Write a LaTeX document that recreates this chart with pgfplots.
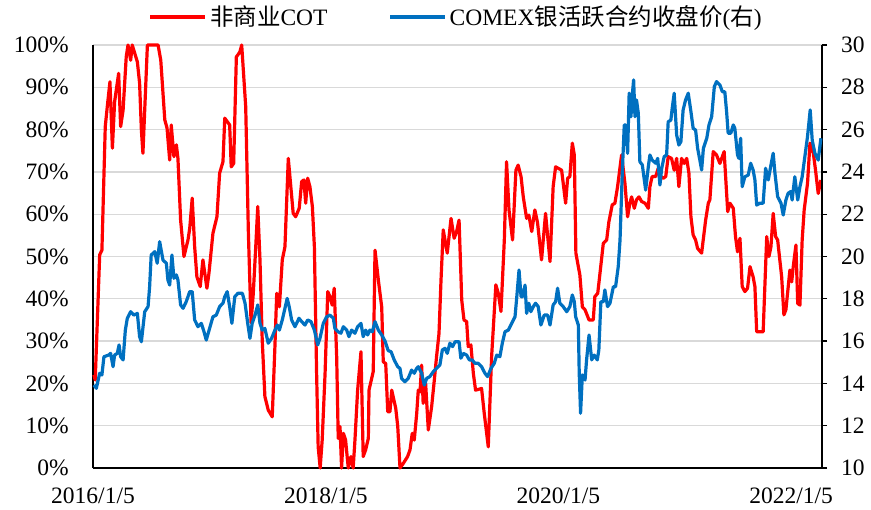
\documentclass[border=0pt]{standalone}
\usepackage{pgfplots}
\pgfplotsset{compat=1.18}
\usepackage{fontspec}
\setmainfont{Liberation Serif}
\newfontfamily\cjk{Noto Sans CJK SC}
\definecolor{cred}{RGB}{255,0,0}
\definecolor{cblue}{RGB}{0,112,192}
\definecolor{cgrid}{RGB}{217,217,217}
\begin{document}
\fontsize{23.5bp}{28bp}\selectfont
\begin{tikzpicture}
\begin{axis}[
  scale only axis, width=729bp, height=423bp,
  at={(0,0)}, anchor=south west,
  xmin=0, xmax=327, ymin=0, ymax=100,
  clip=false,
  axis x line*=bottom, axis y line*=left,
  axis line style={-, black, line width=1.3bp},
  xtick={0,104.43,208.71,313.14},
  xticklabels={2016/1/5,2018/1/5,2020/1/5,2022/1/5},
  ytick={0,10,...,100},
  yticklabel={\pgfmathprintnumber{\tick}\%},
  /pgf/number format/assume math mode=true,
  ymajorgrids, major grid style={cgrid, line width=1.3bp},
  major tick length=0pt,
  tick style={draw=none},
  ticklabel style={font=\fontsize{23.5bp}{28bp}\selectfont},
  yticklabel style={inner sep=0pt, xshift=-24bp},
  xticklabel style={inner sep=0pt, yshift=-20bp},
  legend columns=2,
  legend style={at={(0.499,1)}, anchor=center, yshift=28bp, draw=none, fill=none,
    font=\fontsize{23.5bp}{28bp}\selectfont, inner sep=0pt,
    nodes={inner sep=3bp},
    /tikz/every even column/.append style={column sep=58bp}},
  legend image code/.code={\draw[#1, line width=3.2bp] (0bp,0bp) -- (55bp,0bp);},
]
\addplot[cred, line width=3.2bp, line join=round] coordinates {
(0.4,22) (1.0,20.8) (3.0,50.4) (4.0,51.5) (5.5,80.7) (6.4,85.4) (7.6,91.3) (8.7,75.6) (9.7,86.6) (11.5,93.3) (12.4,80.7) (13.5,84.6) (14.9,97.2) (15.7,100) (16.9,96.4) (17.6,100) (19.9,96) (20.9,91) (21.7,79.9) (22.4,74.4) (24.4,100) (29.2,100) (30.4,96.4) (32.2,82.3) (33.2,80.4) (34.4,72.8) (35.1,81.1) (36.3,73.6) (37.4,76.4) (38.1,73.2) (39.3,58.6) (40.8,50) (42.6,53.9) (43.4,56.7) (44.5,63.8) (45.6,52.3) (46.6,45.2) (48.1,42.9) (49.3,49.2) (51.1,42.5) (52.0,46) (53.8,55.5) (55.6,59.4) (56.8,69.7) (58.3,72.4) (59.1,82.7) (61.3,81.1) (62.0,71.2) (63.1,72) (64.3,97.2) (64.9,97.6) (65.9,98.4) (66.7,100) (68.5,85.4) (69.7,55.5) (70.9,34.3) (71.9,41.3) (73.0,52.3) (73.9,61.8) (74.9,49.2) (75.9,30.3) (77.1,16.9) (78.6,13.7) (80.4,12.1) (81.6,28.7) (82.4,41.3) (83.6,38.1) (84.9,49.2) (86.1,52.3) (87.6,73.2) (89.8,60.2) (90.9,59.4) (92.5,61.4) (93.6,67.7) (94.6,68.1) (95.4,62.6) (96.3,68.5) (97.3,66.5) (98.4,61.8) (99.3,52.3) (100.3,22.4) (101.0,5) (101.9,0) (102.8,6.6) (104.1,22.4) (105.3,41.7) (106.3,40.5) (107.3,38.5) (108.2,42.5) (109.3,26.3) (110.0,7) (110.8,9.8) (111.5,0) (112.3,8.2) (113.3,6.6) (114.5,0) (115.7,2.7) (116.7,0) (117.5,6.6) (118.7,18.4) (120.2,27.5) (121.2,2.7) (122.3,4.3) (123.5,7) (123.8,18.4) (125.7,22.8) (126.5,51.5) (128.0,44.4) (129.5,38.1) (130.2,25.1) (131.3,24.7) (132.2,13.3) (133.2,13.3) (134.0,18.4) (135.8,14.1) (136.7,9.8) (137.7,0) (139.2,1.1) (141.1,2.7) (142.2,4.3) (143.2,8.2) (144.1,6.6) (145.2,12.9) (145.9,18.4) (146.7,18) (147.4,24.3) (148.1,15.3) (149.2,20) (150.4,9) (151.9,14.5) (153.1,20.8) (154.1,26.3) (155.2,31.8) (156.1,44.4) (157.1,56.3) (158.9,50.8) (160.6,59) (162.0,54.3) (163.1,55.9) (164.2,58.6) (165.4,39.7) (166.4,35) (167.6,34.6) (168.3,28.7) (169.5,29.1) (170.6,22.4) (171.6,18.4) (174.3,18.8) (175.5,12.9) (177.3,5) (178.8,26.3) (180.7,43.3) (181.8,41.3) (183.0,37) (184.5,53.9) (185.5,72.4) (186.6,61) (188.2,53.9) (189.7,70.4) (190.7,71.6) (192.0,68.9) (193.0,64.1) (194.5,59) (195.5,59.8) (196.8,55.9) (198.2,61) (199.4,58) (201.2,49.2) (203.0,60.2) (205.0,48.8) (206.4,66.5) (207.5,71.2) (210.2,70.4) (212.0,62.6) (212.9,68.5) (213.9,68.9) (215.0,76.8) (215.9,74) (216.6,50.8) (218.4,45.6) (219.5,38.1) (220.7,37.4) (222.5,35) (224.4,35) (225.1,40.5) (226.4,41.3) (227.4,46) (228.9,53.1) (230.4,53.9) (231.4,58.2) (232.9,62.2) (234.1,62.6) (235.3,66.5) (237.1,74) (238.6,67.3) (239.8,59.4) (240.8,62.6) (241.6,64.1) (242.8,61.4) (243.8,63.4) (244.9,64.1) (246.1,63) (247.6,62.6) (249.1,61.4) (249.8,66.5) (250.8,68.9) (252.4,68.9) (253.5,70.8) (254.7,68.9) (255.8,68.5) (256.9,68.9) (258.0,73.6) (259.5,73.2) (260.7,70.4) (261.8,73.2) (262.8,66.5) (264.0,73.2) (265.2,72) (266.3,73.2) (267.3,69.7) (268.2,59.4) (269.2,55.1) (270.3,53.9) (271.2,51.9) (273.0,50.8) (274.8,58.6) (276.0,62.6) (276.7,63.4) (278.2,74.8) (279.7,74) (281.2,72) (283.1,74.8) (284.7,60.6) (285.7,62.6) (287.2,61.4) (288.2,54.7) (289.1,51.1) (290.2,54.3) (291.2,42.9) (292.4,41.7) (293.6,42.5) (294.7,47.6) (296.1,45.2) (296.9,42.9) (297.7,32.2) (300.6,32.2) (302.2,54.7) (303.2,50) (304.1,52.3) (305.1,60.2) (306.2,54.7) (307.1,53.9) (308.9,45.2) (309.9,36.2) (310.8,37.4) (312.6,46.8) (313.4,44) (314.1,47.6) (315.3,52.7) (316.1,38.9) (317.1,38.5) (318.1,53.9) (319.0,61) (320.5,67.3) (321.6,76.8) (323.1,74.4) (324.1,70.4) (325.3,64.9) (326.5,68.1)
};
\addlegendentry{{\cjk 非商业}COT}
\addlegendimage{cblue, line width=3.2bp}
\addlegendentry{COMEX{\cjk 银活跃合约收盘价}({\cjk 右})}
\end{axis}
\begin{axis}[
  scale only axis, width=729bp, height=423bp,
  at={(0,0)}, anchor=south west,
  xmin=0, xmax=327, ymin=10, ymax=30,
  clip=false,
  axis x line=none, axis y line*=right,
  axis line style={-, black, line width=1.3bp},
  ytick={10,12,...,30},
  /pgf/number format/assume math mode=true,
  tick align=outside, major tick length=5bp,
  tick style={black, line width=1.3bp},
  ticklabel style={font=\fontsize{23.5bp}{28bp}\selectfont},
  yticklabel style={inner sep=0pt, xshift=14bp},
]
\addplot[cblue, line width=3.2bp, line join=round] coordinates {
(0.4,13.92) (1.5,13.77) (3.0,14.48) (4.0,14.40) (4.9,15.26) (7.0,15.34) (7.9,15.42) (9.0,14.79) (9.7,15.34) (10.9,15.42) (11.7,15.82) (12.4,15.26) (13.5,15.11) (14.5,16.52) (15.4,17.08) (16.9,17.39) (18.3,17.23) (19.9,17.31) (20.9,16.21) (21.7,15.97) (23.2,17.39) (24.7,17.63) (25.4,18.57) (26.1,20.07) (27.7,20.23) (28.8,19.68) (29.9,20.70) (31.4,19.83) (32.9,19.68) (33.6,18.89) (34.4,18.65) (35.4,20.07) (36.3,18.97) (37.4,19.13) (38.1,18.89) (39.3,17.71) (40.4,17.55) (41.8,17.86) (43.4,18.34) (44.5,18.34) (45.6,17.0) (47.1,16.68) (48.6,16.84) (49.8,16.44) (50.8,16.05) (52.3,16.60) (53.8,17.15) (55.3,17.23) (56.8,17.63) (58.3,17.79) (59.1,18.10) (60.2,18.34) (61.3,17.63) (62.3,16.84) (63.6,18.10) (65.0,18.26) (67.0,18.26) (68.2,17.79) (69.4,16.84) (70.4,16.13) (71.4,16.84) (72.7,17.23) (73.9,17.71) (74.9,16.84) (75.9,16.52) (77.1,16.60) (78.6,15.90) (80.1,16.13) (81.6,16.52) (82.7,16.76) (83.6,16.52) (84.9,17.0) (86.1,17.55) (87.1,18.02) (88.0,17.63) (89.1,17.0) (90.6,16.68) (92.4,17.08) (93.6,16.92) (95.1,16.76) (96.3,17.0) (97.8,16.92) (99.3,16.52) (100.8,15.82) (101.8,16.13) (103.3,16.84) (104.8,17.15) (106.3,17.23) (107.8,17.08) (108.5,16.60) (110.0,16.44) (111.2,16.37) (112.3,16.68) (113.8,16.52) (114.8,16.21) (116.0,16.52) (117.5,16.37) (118.7,16.68) (120.2,16.84) (121.2,16.21) (122.3,16.52) (123.2,16.29) (124.2,16.52) (125.3,16.44) (126.5,16.92) (128.0,16.52) (129.5,16.29) (131.0,16.0) (132.4,15.55) (133.7,15.50) (135.1,15.11) (136.7,14.79) (137.7,14.71) (138.4,14.24) (139.9,14.08) (141.4,14.24) (142.9,14.63) (144.1,14.48) (145.2,14.71) (145.9,14.79) (147.4,14.48) (148.6,13.92) (149.7,14.24) (151.1,14.32) (152.6,14.55) (154.1,14.71) (155.6,14.87) (156.7,15.58) (157.9,15.66) (158.9,15.42) (160.1,15.90) (161.3,15.74) (162.4,15.97) (164.2,15.97) (165.0,15.19) (166.1,15.42) (167.6,15.34) (168.8,15.11) (170.1,15.11) (171.3,14.95) (172.8,14.95) (174.3,14.79) (175.8,14.48) (177.0,14.32) (178.5,14.71) (180.0,14.95) (181.1,15.34) (182.5,15.26) (183.6,15.90) (184.8,16.44) (186.3,16.52) (187.8,16.84) (189.3,17.15) (190.1,18.10) (191.1,19.36) (192.0,18.10) (192.7,18.10) (193.8,18.65) (194.5,17.31) (195.5,17.79) (196.4,17.39) (197.5,17.63) (198.5,17.79) (199.7,17.63) (200.9,16.76) (202.4,17.23) (203.9,17.23) (205.0,16.76) (206.4,17.71) (207.5,17.86) (208.4,18.50) (209.4,17.79) (210.9,17.63) (212.5,17.39) (213.9,17.63) (215.0,18.18) (215.9,17.86) (216.5,17.15) (217.7,16.76) (218.1,14.48) (218.7,12.59) (219.5,14.40) (220.7,14.16) (221.4,15.11) (222.5,16.29) (223.7,15.11) (224.8,15.34) (226.2,15.11) (226.9,15.58) (227.8,17.86) (228.9,17.86) (229.6,18.42) (230.8,17.63) (231.9,17.79) (233.4,18.57) (234.4,18.57) (235.6,19.52) (236.4,20.78) (237.4,23.93) (238.3,26.22) (238.9,26.22) (239.8,24.88) (240.5,27.72) (241.3,26.61) (241.9,27.64) (242.5,28.35) (243.1,26.61) (243.8,27.40) (244.6,26.77) (245.3,24.48) (246.4,24.33) (247.9,23.14) (249.1,24.25) (249.8,24.80) (250.8,24.56) (252.4,24.41) (253.3,24.64) (254.3,23.38) (255.1,24.17) (256.2,24.72) (257.3,24.80) (258.0,26.37) (259.2,26.45) (259.8,27.0) (260.7,27.72) (261.8,25.74) (262.8,25.27) (263.7,25.43) (264.7,26.93) (265.8,27.40) (267.0,27.72) (268.2,26.85) (269.2,26.06) (270.3,25.98) (271.2,25.12) (272.2,24.56) (273.0,24.09) (273.8,25.12) (275.3,25.59) (276.3,26.22) (277.5,26.61) (278.7,28.03) (279.7,28.27) (281.2,28.11) (282.3,27.79) (283.4,27.79) (284.2,26.85) (284.9,25.83) (286.1,25.83) (287.2,26.22) (287.9,26.06) (289.1,24.80) (289.7,24.64) (290.5,25.59) (291.2,23.30) (292.4,23.77) (293.9,23.85) (295.0,24.41) (296.1,24.09) (296.9,23.62) (297.7,22.43) (299.1,22.52) (300.6,22.52) (301.7,24.17) (302.9,23.62) (304.1,24.33) (305.1,24.88) (305.9,23.93) (307.1,22.83) (308.6,22.52) (309.6,21.96) (310.8,22.67) (311.8,22.99) (313.0,23.07) (313.6,22.67) (314.8,23.77) (316.1,22.67) (317.1,23.30) (318.1,23.77) (319.3,24.72) (320.5,25.67) (321.7,26.93) (322.6,25.51) (323.8,24.88) (325.3,24.56) (326.5,25.59)
};
\end{axis}
\pgfresetboundingbox
\path[use as bounding box] (-93bp,-42bp) rectangle (778bp,468bp);
\end{tikzpicture}
\end{document}
